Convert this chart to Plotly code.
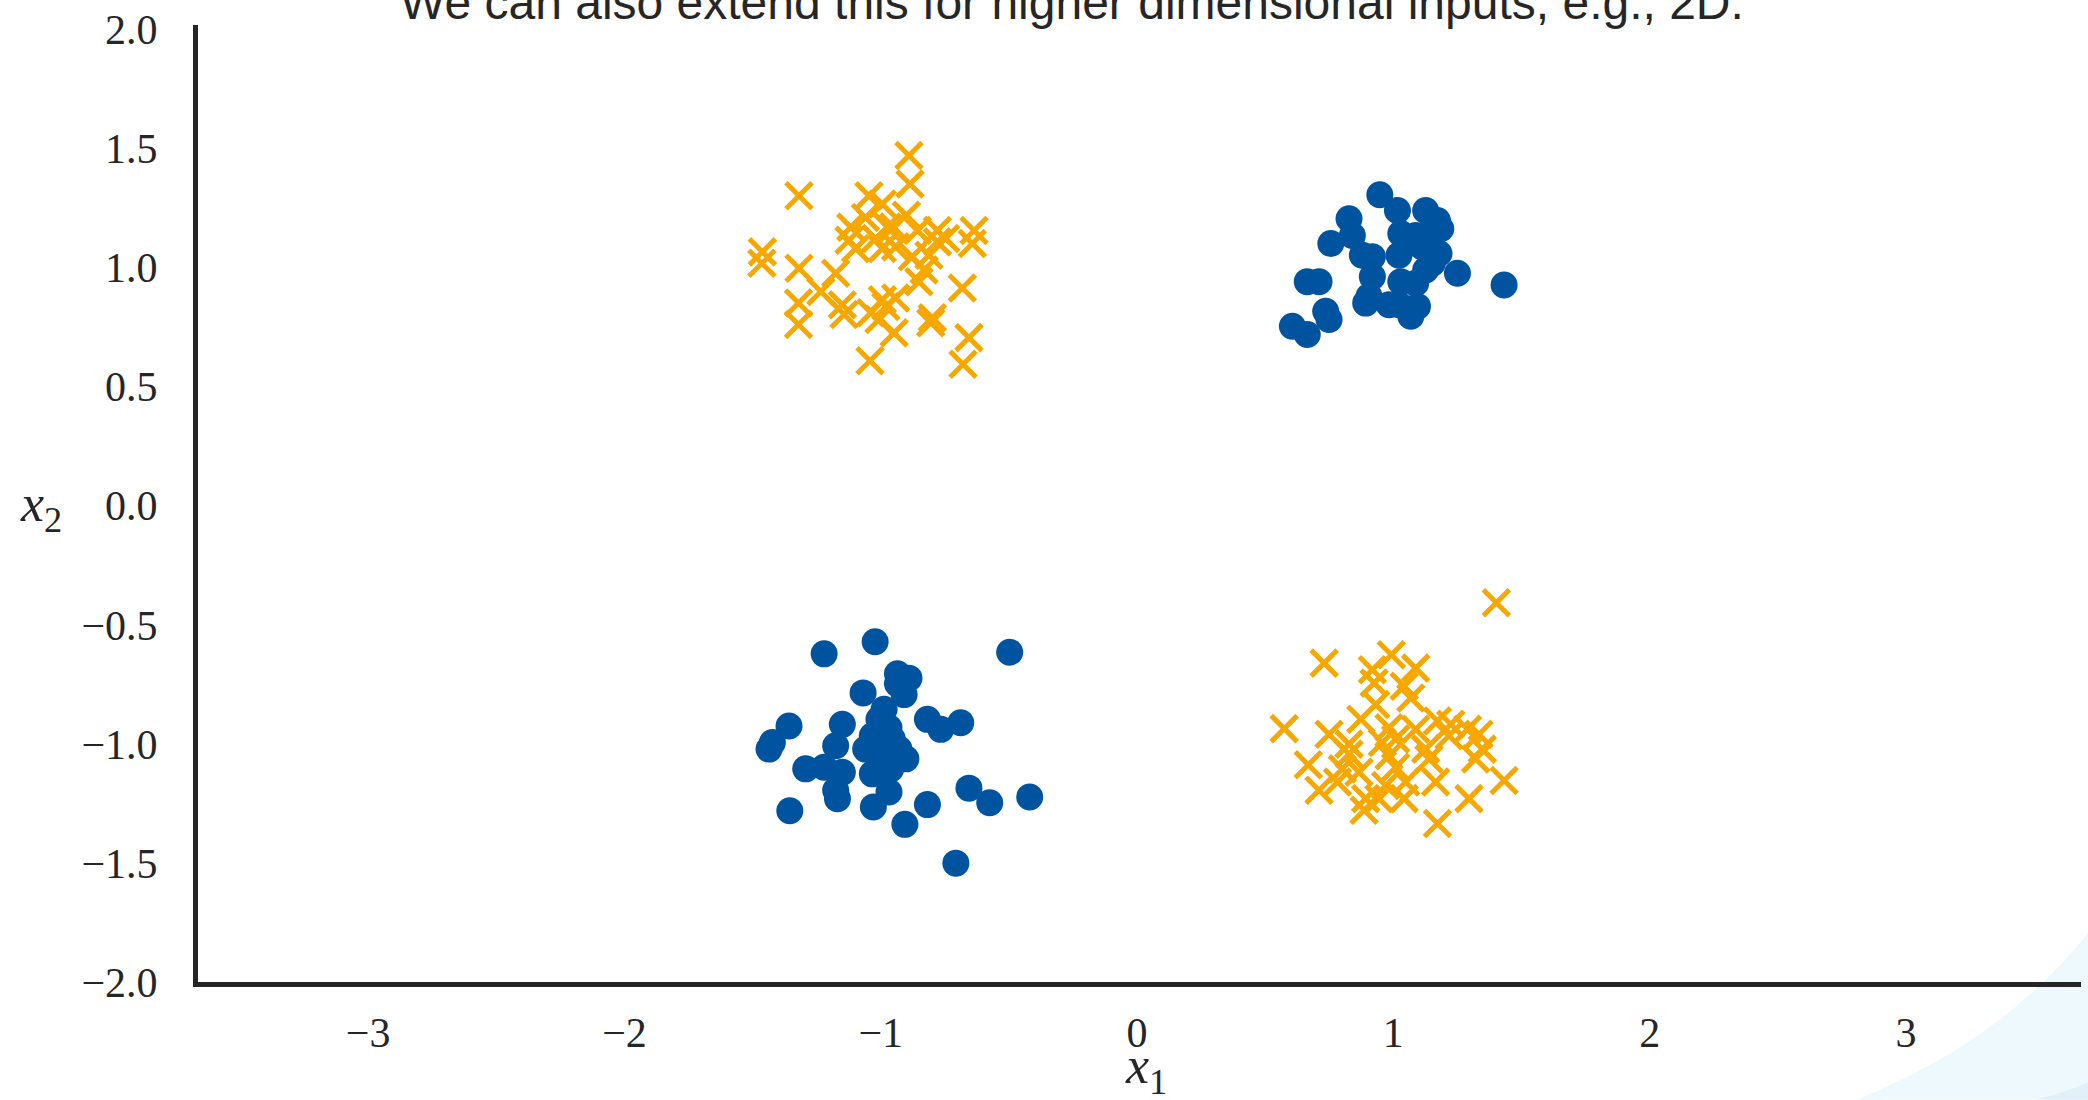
import plotly.graph_objects as go

# ---- data ----
top_left_x = [-0.890, -0.886, -1.319, -1.462, -1.464, -1.046, -0.994, -0.951, -1.117, -1.124,
              -0.994, -0.942, -0.857, -0.779, -0.747, -0.636, -0.643, -0.812, -0.831, -0.851,
              -1.319, -1.176, -1.234, -1.321, -1.150, -1.143, -1.321, -0.994, -0.942, -1.007,
              -0.948, -0.799, -0.805, -0.682, -0.656, -0.679, -1.042, -1.020, -0.974, -0.877,
              -0.779, -1.039, -0.980, -1.098, -1.060, -0.900]
top_left_y = [1.471, 1.351, 1.302, 1.066, 1.018, 1.302, 1.267, 1.170, 1.170, 1.115,
              1.080, 1.087, 1.156, 1.156, 1.122, 1.156, 1.101, 1.052, 0.990, 0.941,
              0.997, 0.976, 0.900, 0.851, 0.844, 0.803, 0.761, 0.865, 0.872, 0.782,
              0.726, 0.789, 0.768, 0.914, 0.706, 0.594, 0.609, 1.122, 1.170, 1.046,
              1.108, 0.810, 0.837, 1.080, 1.210, 1.220]

top_right_x = [0.947, 1.016, 1.126, 0.827, 1.172, 1.185, 0.840, 0.756, 1.029, 1.087,
               1.113, 0.879, 0.918, 1.022, 1.178, 1.152, 1.250, 0.664, 0.710, 1.432,
               0.918, 1.029, 1.087, 0.905, 0.892, 0.983, 1.022, 1.094, 1.068, 0.736,
               0.749, 0.606, 0.664, 1.152, 1.126]
top_right_y = [1.306, 1.240, 1.240, 1.205, 1.198, 1.163, 1.135, 1.101, 1.143, 1.135,
               1.087, 1.052, 1.046, 1.052, 1.059, 1.018, 0.976, 0.941, 0.941, 0.927,
               0.962, 0.941, 0.934, 0.879, 0.851, 0.844, 0.844, 0.837, 0.796, 0.817,
               0.782, 0.754, 0.719, 1.156, 0.990]

bottom_left_x = [-1.022, -1.221, -0.497, -0.935, -0.890, -0.935, -0.909, -1.069, -0.987, -1.358,
                 -1.150, -0.818, -0.766, -0.688, -1.423, -1.436, -1.176, -1.033, -0.968, -0.955,
                 -1.059, -0.902, -1.007, -1.221, -1.293, -1.150, -1.033, -0.961, -0.968, -1.169,
                 -1.176, -1.355, -1.029, -0.818, -0.656, -0.575, -0.419, -0.906, -0.707, -1.007,
                 -0.980, -0.929]
bottom_left_y = [-0.571, -0.622, -0.615, -0.706, -0.724, -0.747, -0.793, -0.786, -0.855, -0.925,
                 -0.918, -0.897, -0.939, -0.911, -0.994, -1.022, -1.008, -0.966, -0.932, -0.980,
                 -1.022, -1.063, -1.063, -1.098, -1.105, -1.119, -1.126, -1.105, -1.202, -1.230,
                 -1.195, -1.281, -1.265, -1.255, -1.186, -1.247, -1.223, -1.338, -1.501, -0.897,
                 -1.022, -1.022]

bottom_right_x = [1.402, 0.730, 0.992, 1.087, 0.918, 0.925, 1.042, 1.068, 0.931, 0.574,
                  0.749, 0.873, 0.983, 1.172, 1.224, 1.289, 1.334, 1.347, 0.827, 0.827,
                  0.957, 1.009, 1.087, 1.126, 1.139, 1.321, 0.668, 0.801, 1.009, 0.710,
                  0.782, 0.892, 0.886, 0.944, 1.042, 1.048, 1.165, 1.295, 1.432, 1.172,
                  0.983, 0.866, 1.217, 0.970]
bottom_right_y = [-0.407, -0.661, -0.626, -0.682, -0.689, -0.744, -0.758, -0.807, -0.835, -0.936,
                  -0.960, -0.897, -0.932, -0.904, -0.918, -0.939, -0.960, -1.022, -1.001, -1.043,
                  -0.994, -0.980, -0.939, -1.022, -1.063, -1.063, -1.088, -1.105, -1.098, -1.195,
                  -1.160, -1.230, -1.279, -1.230, -1.230, -1.160, -1.160, -1.230, -1.154, -1.334,
                  -1.050, -1.119, -0.966, -1.175]

x_tick_vals = [-3, -2, -1, 0, 1, 2, 3]
x_tick_text = ["\u22123", "\u22122", "\u22121", "0", "1", "2", "3"]
y_tick_vals = [2.0, 1.5, 1.0, 0.5, 0.0, -0.5, -1.0, -1.5, -2.0]
y_tick_text = ["2.0", "1.5", "1.0", "0.5", "0.0", "\u22120.5", "\u22121.0", "\u22121.5", "\u22122.0"]

title_text = "We can also extend this for higher dimensional inputs, e.g., 2D."

BLUE = "#00549F"
ORANGE = "#F6A800"

fig = go.Figure()

cross = dict(symbol="x-thin", size=26, color=ORANGE, line=dict(color=ORANGE, width=5))
dot = dict(symbol="circle", size=27, color=BLUE, line=dict(width=0))

fig.add_trace(go.Scatter(x=top_left_x, y=top_left_y, mode="markers", marker=cross, showlegend=False))
fig.add_trace(go.Scatter(x=bottom_right_x, y=bottom_right_y, mode="markers", marker=cross, showlegend=False))
fig.add_trace(go.Scatter(x=top_right_x, y=top_right_y, mode="markers", marker=dot, showlegend=False))
fig.add_trace(go.Scatter(x=bottom_left_x, y=bottom_left_y, mode="markers", marker=dot, showlegend=False))

W, H = 2088, 1100
L, R, T, B = 198, 7, 20, 118
pw, ph = W - L - R, H - T - B

def px(x):
    return (x - L) / pw

def py(y):
    return (H - B - y) / ph

# decorative light-blue corner
path1 = (f"M {px(2088)},{py(933)} Q {px(2000)},{py(1043)} {px(1857)},{py(1100)} "
         f"L {px(2088)},{py(1100)} Z")
path2 = (f"M {px(2088)},{py(1083)} Q {px(2065)},{py(1093)} {px(2037)},{py(1100)} "
         f"L {px(2088)},{py(1100)} Z")

tick_font = dict(family="Liberation Serif, DejaVu Serif, serif", size=42, color="#262626")

fig.update_layout(
    width=W, height=H,
    margin=dict(l=L, r=R, t=T, b=B, pad=0),
    paper_bgcolor="white", plot_bgcolor="white",
    xaxis=dict(range=[-3.664, 3.683], showgrid=False, zeroline=False, showline=True,
               linecolor="#262626", linewidth=5, tickvals=x_tick_vals, ticktext=x_tick_text,
               ticks="", tickfont=tick_font, ticklabelstandoff=10),
    yaxis=dict(range=[-2.0, 2.0188], showgrid=False, zeroline=False, showline=True,
               linecolor="#262626", linewidth=5, tickvals=y_tick_vals, ticktext=y_tick_text,
               ticks="", tickfont=tick_font, ticklabelstandoff=27),
    shapes=[
        dict(type="path", xref="paper", yref="paper", path=path1, fillcolor="#EEF9FD",
             line=dict(width=0), layer="below"),
        dict(type="path", xref="paper", yref="paper", path=path2, fillcolor="#E2F0FA",
             line=dict(width=0), layer="below"),
    ],
    annotations=[
        dict(text=title_text, xref="paper", yref="paper", x=px(1072), y=1.0, yshift=-6,
             xanchor="center", yanchor="bottom", showarrow=False,
             font=dict(family="Liberation Sans, Arial, sans-serif", size=48, color="#262626")),
        dict(text="<i>x</i><sub>1</sub>", xref="paper", yref="paper", x=px(1146), y=py(1070),
             xanchor="center", yanchor="middle", showarrow=False,
             font=dict(family="Liberation Serif, serif", size=52, color="#262626")),
        dict(text="<i>x</i><sub>2</sub>", xref="paper", yref="paper", x=px(41), y=py(505),
             xanchor="center", yanchor="middle", showarrow=False,
             font=dict(family="Liberation Serif, serif", size=52, color="#262626")),
    ],
)

fig.write_html("out.html")
